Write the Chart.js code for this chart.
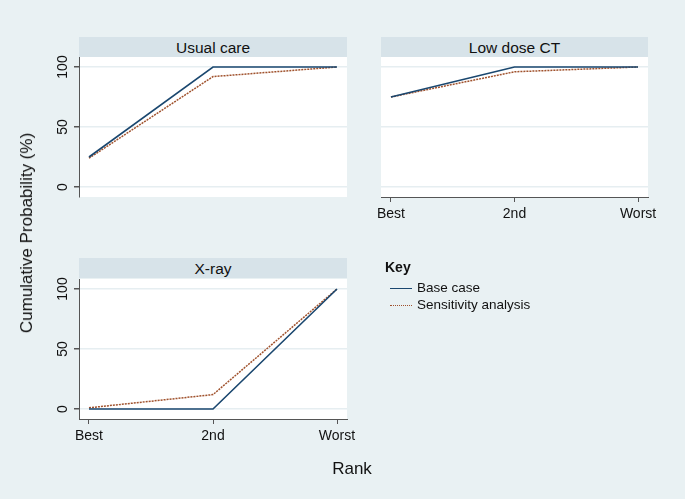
<!DOCTYPE html>
<html>
<head>
<meta charset="utf-8">
<script src="https://cdn.jsdelivr.net/npm/chart.js@4.4.0/dist/chart.umd.min.js"></script>
<style>
  body { margin: 0; background: #e9f1f3; font-family: "Liberation Sans", Arial, sans-serif; }
  #wrap { position: relative; width: 685px; height: 499px; overflow: hidden; background: #e9f1f3; }
  canvas { position: absolute; left: 0; top: 0; }
  .strip { position: absolute; height: 20px; background: #d7e3e9; color: #111; font-size: 15.5px;
           text-align: center; line-height: 21px; }
  .txt { position: absolute; color: #111; white-space: nowrap; }
  .sw { position: absolute; width: 22px; height: 0; }
</style>
</head>
<body>
<div id="wrap">
  <canvas id="c1" width="685" height="499"></canvas>
  <canvas id="c2" width="685" height="499"></canvas>
  <canvas id="c3" width="685" height="499"></canvas>

  <div class="strip" style="left:79px; top:37px; width:268px;">Usual care</div>
  <div class="strip" style="left:381px; top:37px; width:267px;">Low dose CT</div>
  <div class="strip" style="left:79px; top:258px; width:268px;">X-ray</div>

  <div class="txt" style="left:385px; top:259px; font-size:14px; font-weight:bold;">Key</div>
  <div class="sw" style="left:390px; top:288px; border-top:1.5px solid #1a476f;"></div>
  <div class="txt" style="left:417px; top:280px; font-size:13.5px;">Base case</div>
  <div class="sw" style="left:390px; top:305px; border-top:1.5px dotted #a0522d;"></div>
  <div class="txt" style="left:417px; top:297px; font-size:13.5px;">Sensitivity analysis</div>

  <div class="txt" style="left:27px; top:233px; font-size:17px; transform: translate(-50%,-50%) rotate(-90deg);">Cumulative Probability (%)</div>
  <div class="txt" style="left:352px; top:469px; font-size:17px; transform: translate(-50%,-50%);">Rank</div>
</div>

<script>
// ========== DATA ========== //
const ranks = ["Best", "2nd", "Worst"];
const yTicks = [0, 50, 100];

const baseUsual = [25, 100, 100];
const sensUsual = [24, 92, 100];

const baseLowCT = [75, 100, 100];
const sensLowCT = [75, 96, 100];

const baseXray = [0, 0, 100];
const sensXray = [1, 12, 100];

// ========== STYLE ========== //
const baseColor = "#1a476f";
const sensColor = "#a0522d";
const gridColor = "#e6eef1";
const axisColor = "#555";
const tickFont = { family: "'Liberation Sans', Arial, sans-serif", size: 14 };

// white plot region + rotated y tick labels
const panelPlugin = {
  id: "panel",
  beforeDraw(chart) {
    const a = chart.chartArea, ctx = chart.ctx;
    ctx.save();
    ctx.fillStyle = "#fff";
    ctx.fillRect(a.left, a.top, a.right - a.left, a.bottom - a.top);
    ctx.restore();
  },
  afterDraw(chart) {
    if (!chart.options.plugins.panel.yLabels) return;
    const sc = chart.scales.y, ctx = chart.ctx;
    ctx.save();
    ctx.fillStyle = "#111";
    ctx.font = "14px 'Liberation Sans', Arial, sans-serif";
    ctx.textAlign = "center";
    ctx.textBaseline = "middle";
    yTicks.forEach(v => {
      ctx.save();
      ctx.translate(chart.chartArea.left - 16, sc.getPixelForValue(v));
      ctx.rotate(-Math.PI / 2);
      ctx.fillText(String(v), 0, 0);
      ctx.restore();
    });
    ctx.restore();
  }
};

function pts(arr) {
  return arr.map((v, i) => ({ x: i, y: v }));
}

function makePanel(id, base, sens, opt) {
  new Chart(document.getElementById(id), {
    type: "line",
    data: {
      datasets: [
        { label: "Base case", data: pts(base), borderColor: baseColor, borderWidth: 1.6,
          pointRadius: 0, tension: 0 },
        { label: "Sensitivity analysis", data: pts(sens), borderColor: sensColor, borderWidth: 1.5,
          borderDash: [2, 1], pointRadius: 0, tension: 0 }
      ]
    },
    options: {
      responsive: false,
      animation: false,
      devicePixelRatio: 1,
      layout: { padding: opt.padding },
      plugins: { legend: { display: false }, tooltip: { enabled: false }, panel: { yLabels: opt.yLabels } },
      scales: {
        x: {
          type: "linear",
          min: -0.0806, max: 2.0806,
          display: opt.xAxis,
          afterBuildTicks: s => { s.ticks = ranks.map((r, i) => ({ value: i })); },
          afterFit: s => { s.height = opt.xAxis ? 30 : 0; },
          ticks: { callback: v => ranks[v], color: "#111", font: tickFont, padding: 4, maxRotation: 0 },
          grid: { color: "transparent", tickColor: axisColor, tickLength: 5 },
          border: { display: true, color: axisColor, width: 1 }
        },
        y: {
          min: -8.33, max: 108.33,
          afterBuildTicks: s => { s.ticks = yTicks.map(v => ({ value: v })); },
          afterFit: s => { s.width = opt.yLabels ? 40 : 0; },
          ticks: { display: false },
          grid: { color: gridColor, lineWidth: 1.5, tickColor: axisColor, tickLength: 5,
                  drawTicks: opt.yLabels },
          border: { display: opt.yLabels, color: axisColor, width: 1 }
        }
      }
    },
    plugins: [panelPlugin]
  });
}

makePanel("c1", baseUsual, sensUsual,
  { padding: { left: 39, top: 57, right: 338, bottom: 302 }, yLabels: true, xAxis: false });
makePanel("c2", baseLowCT, sensLowCT,
  { padding: { left: 381, top: 57, right: 37, bottom: 272 }, yLabels: false, xAxis: true });
makePanel("c3", baseXray, sensXray,
  { padding: { left: 39, top: 279, right: 338, bottom: 50 }, yLabels: true, xAxis: true });
</script>
</body>
</html>
